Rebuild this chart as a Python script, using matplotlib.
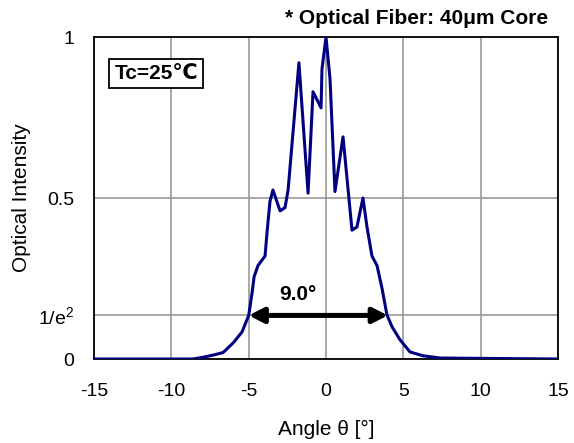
import numpy as np
import matplotlib.pyplot as plt

plt.rcParams['font.family'] = ['Liberation Sans', 'DejaVu Sans']
plt.rcParams['axes.unicode_minus'] = False
plt.rcParams['mathtext.fontset'] = 'custom'
plt.rcParams['mathtext.rm'] = 'Liberation Sans'

# far field pattern
angle = [-15, -8.6, -8.0, -7.3, -6.66, -6.0, -5.43, -5.0, -4.78, -4.65, -4.4, -3.94,
         -3.8, -3.62, -3.43, -2.97, -2.65, -2.45, -1.75, -1.16, -0.84, -0.32, -0.26,
         0.0, 0.26, 0.58, 1.1, 1.68, 2.0, 2.39, 2.65, 2.97, 3.3, 3.62, 3.94, 4.27,
         4.78, 5.43, 6.27, 7.4, 15]
intensity = [0, 0, 0.005, 0.012, 0.02, 0.05, 0.084, 0.135, 0.205, 0.255, 0.29, 0.32,
             0.40, 0.49, 0.525, 0.46, 0.47, 0.525, 0.92, 0.515, 0.83, 0.78, 0.90,
             1.0, 0.87, 0.52, 0.69, 0.40, 0.41, 0.50, 0.41, 0.32, 0.29, 0.22, 0.137, 0.10,
             0.06, 0.022, 0.01, 0.003, 0]

x_ticks = [-15, -10, -5, 0, 5, 10, 15]
y_ticks = [0, 1 / np.e ** 2, 0.5, 1]
y_tick_labels = ['0', '1/e$^{2}$', '0.5', '1']

# beam width at 1/e^2
width_left = -5.0
width_right = 4.0
width_label = '9.0°'

fig = plt.figure(figsize=(5.74, 4.43), dpi=100)
ax = fig.add_axes([94 / 574, 1 - 359 / 443, 464 / 574, 322 / 443])

ax.plot(angle, intensity, color='#000080', linewidth=2.2, zorder=3)

ax.set_xlim(-15, 15)
ax.set_ylim(0, 1)
ax.set_xticks(x_ticks)
ax.set_yticks(y_ticks)
ax.set_yticklabels(y_tick_labels)
ax.tick_params(length=0, labelsize=14)
ax.tick_params(axis='x', pad=17)
ax.tick_params(axis='y', pad=14)
ax.grid(True, color='#999999', linewidth=1.2)
for s in ax.spines.values():
    s.set_linewidth(1.3)
    s.set_color('black')

ax.set_xlabel('Angle θ [°]', fontsize=15)
ax.xaxis.set_label_coords(0.5, -0.19)
fig.text(22 / 574, 1 - 198 / 443, 'Optical Intensity', rotation=90, ha='center',
         va='center', fontsize=15)

ax.annotate('', xy=(width_left, 1 / np.e ** 2), xytext=(width_right, 1 / np.e ** 2),
            arrowprops=dict(arrowstyle='<|-|>,head_length=0.55,head_width=0.28',
                            color='black', lw=3.6, mutation_scale=16,
                            shrinkA=0, shrinkB=0), zorder=4)
ax.text(-1.8, 0.2, width_label, ha='center', va='center',
        fontsize=15, fontweight='bold')

ax.text(0.134, 0.887, 'Tc=25℃', transform=ax.transAxes, fontsize=15,
        fontweight='bold', va='center', ha='center',
        bbox=dict(boxstyle='square,pad=0.25', facecolor='white', edgecolor='black', lw=1.3))

fig.text(548 / 574, 1 - 19 / 443, '* Optical Fiber: 40μm Core', ha='right', va='center',
         fontsize=15, fontweight='bold')

fig.savefig('out.png', dpi=100)
